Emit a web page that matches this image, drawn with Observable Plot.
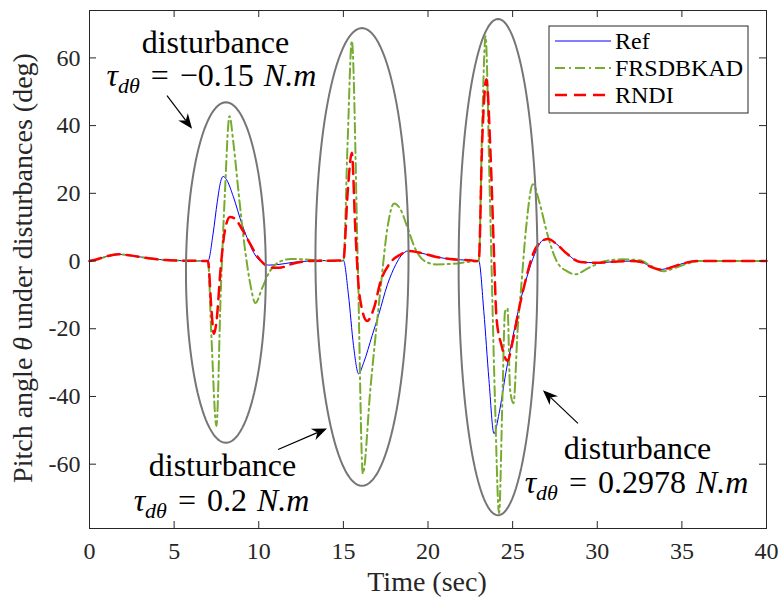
<!DOCTYPE html>
<html><head><meta charset="utf-8">
<script src="https://cdn.jsdelivr.net/npm/d3@7"></script>
<script src="https://cdn.jsdelivr.net/npm/@observablehq/plot@0.6"></script>
<style>body{margin:0;background:#fff} svg, svg text{font-family:"Liberation Serif",serif}</style>
</head><body><div id="chart"></div>
<script>
// ---- data (time in s, pitch angle in deg) ----
const refT = [0,0.5,1,1.7,2.5,3.5,4.5,5.5,7.0,7.3,7.55,7.75,7.9,8.1,8.5,9.0,9.3,9.7,10.2,10.6,11.2,12.0,13.0,15.0,15.3,15.6,15.9,16.2,16.7,17.1,17.6,18.1,18.4,18.85,19.5,20.5,21.3,22.5,23.0,23.3,23.6,23.9,24.2,24.6,25.0,25.5,25.9,26.3,26.8,27.1,27.6,28.2,29.0,30.0,31.0,32.0,32.6,33.2,33.7,34.3,35.0,35.9,40];
const refY = [0,0.6,1.4,2.0,1.6,0.8,0.3,0.1,0,8,17.5,23.5,25,24,19,11,7,2.5,-0.5,-1.2,-1.0,-0.4,0,0.2,-10,-25,-33.3,-30,-22,-15.6,-7,-1,1.5,3,2.5,1.2,0.6,0.2,0,-15,-35,-51,-45,-33,-22.7,-11,-3.8,2,6.2,6.5,5,2.2,-0.3,-0.5,-0.2,0,-0.3,-1.8,-2.5,-2.0,-0.8,0,0];

const frsT = [0,0.5,1,1.7,2.5,3.5,4.5,5.5,7.0,7.2,7.5,7.75,8.0,8.27,8.5,8.8,9.2,9.5,9.8,10.2,10.6,11.1,11.9,13.0,14.0,15.0,15.25,15.5,15.85,16.15,16.6,17.2,17.6,18.0,18.4,18.8,19.26,19.8,20.5,21.5,22.5,23.0,23.2,23.4,23.65,23.95,24.2,24.4,24.55,24.7,24.85,25.05,25.3,25.5,25.8,26.2,26.6,27.05,27.6,28.2,28.7,29.5,30.5,31.5,32.5,33.2,33.9,34.6,35.3,36.0,40];
const frsY = [0,0.5,1.3,2.0,1.6,0.8,0.3,0.1,0,-22,-48.7,-10,20,42.8,35,20.6,3,-6.8,-12.4,-8,-3.5,-0.6,0.6,0.4,0.1,0,35,65,0,-62.8,-37.5,-8,9.7,17,15,9.7,3.5,0,-1,-0.8,-0.2,0,40,66.4,20,-40,-74.5,-40,-15,-14,-38,-42,-20,-8,10,22.7,17,8,0,-3,-3.9,-2,0,0.5,0.2,-1.5,-3,-2,-0.8,0,0];

const rndiT = [0,0.5,1,1.7,2.5,3.5,4.5,5.5,7.0,7.2,7.35,7.5,7.75,8.0,8.3,8.6,9.0,9.5,9.9,10.3,10.8,11.2,12.0,13.0,15.0,15.25,15.5,15.7,15.95,16.4,16.8,17.2,17.7,18.4,18.85,19.5,20.5,21.3,22.5,23.0,23.2,23.45,23.7,23.9,24.05,24.35,24.7,24.97,25.35,25.75,26.2,26.7,27.1,27.6,28.2,29.0,30.0,31.0,32.0,32.6,33.2,33.7,34.3,35.0,35.9,40];
const rndiY = [0,0.6,1.4,2.0,1.6,0.8,0.3,0.1,0,-14,-21.5,-18,-2,9,13,12.5,9.5,5,1.5,-0.8,-2,-2,-0.8,0,0.2,20,32,10,-10,-17.7,-14,-6,-1,2,3,2.5,1.2,0.6,0.2,0,35,53.7,31,2,-17,-25,-29.5,-24.5,-14.7,-6,2,5.8,6.5,5,2.2,-0.3,-0.5,-0.2,0,-0.3,-1.8,-2.5,-2.0,-0.8,0,0];

const seriesNames = ["Ref", "FRSDBKAD", "RNDI"];
const xTicks = [0,5,10,15,20,25,30,35,40];
const yTicks = [-60,-40,-20,0,20,40,60];

// ellipses highlighting the disturbances (data units)
const ellCX = [8.06, 16.1, 24.14];
const ellCY = [-3.4, 1.2, -1.8];
const ellRX = [2.36, 2.75, 2.33];
const ellRY = [50.3, 67.6, 73.3];

// annotations
const annWordT = [7.44, 7.86, 32.38];
const annWordY = [61.4, -63.4, -58.4];
const annMathT = [7.2, 7.8, 32.32];
const annMathY = [51.6, -73.7, -68.4];
const annTorque = ["−0.15", "0.2", "0.2978"];
const arrT1 = [4.61, 11.17, 28.89], arrY1 = [48.7, -55.8, -48.1];
const arrT2 = [6.09, 14.06, 26.82], arrY2 = [38.9, -49.6, -38.3];

// ---- build tables ----
const toRows = (name, T, Y) => T.map((t, i) => ({series: name, t, v: Y[i]}));
const refRows = toRows(seriesNames[0], refT, refY);
const frsRows = toRows(seriesNames[1], frsT, frsY);
const rndiRows = toRows(seriesNames[2], rndiT, rndiY);
const ellRows = [];
ellCX.forEach((cx, k) => {
  for (let i = 0; i < 120; i++) {
    const a = 2 * Math.PI * i / 120;
    ellRows.push({id: k, t: cx + ellRX[k] * Math.cos(a), v: ellCY[k] + ellRY[k] * Math.sin(a)});
  }
});
const wordRows = annWordT.map((t, i) => ({t, v: annWordY[i], s: "disturbance"}));
const mathRows = annMathT.map((t, i) => ({t, v: annMathY[i], s: `τdθ = ${annTorque[i]} N.m`}));

const FONT = "Liberation Serif";
const W = 781, H = 607, mL = 89, mR = 15, mT = 10, mB = 79;
const innerW = W - mL - mR, innerH = H - mT - mB;
const axisColor = "#262626";
const colors = {Ref: "#0000ff", FRSDBKAD: "#77ac30", RNDI: "#ff0000"};
const dashes = {Ref: null, FRSDBKAD: "10,4,2,4", RNDI: "12,7"};
const widths = {Ref: 1, FRSDBKAD: 2, RNDI: 2.5};

const plot = Plot.plot({
  width: W, height: H,
  marginLeft: mL, marginRight: mR, marginTop: mT, marginBottom: mB,
  style: {fontFamily: FONT, fontSize: "24px", background: "white"},
  x: {domain: [0, 40]},
  y: {domain: [-79, 74]},
  marks: [
    Plot.line(refRows, {x: "t", y: "v", stroke: colors.Ref, strokeWidth: widths.Ref, curve: "monotone-x"}),
    Plot.line(frsRows, {x: "t", y: "v", stroke: colors.FRSDBKAD, strokeWidth: widths.FRSDBKAD, strokeDasharray: dashes.FRSDBKAD, curve: "monotone-x"}),
    Plot.line(rndiRows, {x: "t", y: "v", stroke: colors.RNDI, strokeWidth: widths.RNDI, strokeDasharray: dashes.RNDI, curve: "monotone-x"}),
    Plot.line(ellRows, {x: "t", y: "v", z: "id", stroke: "#767676", strokeWidth: 2, curve: "linear-closed"}),
    Plot.frame({stroke: axisColor, strokeWidth: 1}),
    Plot.tickX(xTicks, {x: d => d, stroke: axisColor, insetTop: innerH - 7}),
    Plot.tickX(xTicks, {x: d => d, stroke: axisColor, insetBottom: innerH - 7}),
    Plot.tickY(yTicks, {y: d => d, stroke: axisColor, insetRight: innerW - 7}),
    Plot.tickY(yTicks, {y: d => d, stroke: axisColor, insetLeft: innerW - 7}),
    Plot.axisX(xTicks, {tickSize: 0, tickPadding: 13, tickFormat: d => String(d), label: null, fill: axisColor, fontSize: 24, fontFamily: FONT}),
    Plot.axisY(yTicks, {tickSize: 0, tickPadding: 9, tickFormat: d => String(d), label: null, fill: axisColor, fontSize: 24, fontFamily: FONT}),
    Plot.text(wordRows, {x: "t", y: "v", text: "s", fontSize: 32, fontFamily: FONT, textAnchor: "middle", lineAnchor: "bottom", fill: "black"}),
    Plot.text(mathRows, {x: "t", y: "v", text: "s", fontSize: 32, fontFamily: FONT, textAnchor: "middle", lineAnchor: "bottom", fill: "black"})
  ]
});

const svg = d3.select(plot);
const sx = plot.scale("x"), sy = plot.scale("y");

// math typesetting of torque labels
svg.selectAll("text").each(function() {
  const txt = this.textContent;
  const m = /^τdθ = (.+) N\.m$/.exec(txt);
  if (!m) return;
  const el = d3.select(this);
  el.text(null);
  el.append("tspan").attr("font-style", "italic").text("τ");
  el.append("tspan").attr("font-style", "italic").attr("font-size", "22px").attr("dy", 7).text("dθ");
  el.append("tspan").attr("dy", -7).attr("dx", 3).text(" =");
  el.append("tspan").attr("dx", 3).text(` ${m[1]} `);
  el.append("tspan").attr("dx", 2).attr("font-style", "italic").text("N.m");
});

// arrows
const ag = svg.append("g");
arrT1.forEach((t1, i) => {
  const x1 = sx.apply(t1), y1 = sy.apply(arrY1[i]);
  const x2 = sx.apply(arrT2[i]), y2 = sy.apply(arrY2[i]);
  const dx = x2 - x1, dy = y2 - y1, len = Math.hypot(dx, dy);
  const ux = dx / len, uy = dy / len, nx = -uy, ny = ux;
  const L = 15, w = 6;
  const bx = x2 - ux * L, by = y2 - uy * L;
  const kx = x2 - ux * L * 0.7, ky = y2 - uy * L * 0.7;
  ag.append("line").attr("x1", x1).attr("y1", y1).attr("x2", kx).attr("y2", ky)
    .attr("stroke", "black").attr("stroke-width", 1.2);
  ag.append("path").attr("d", `M${x2},${y2}L${bx + nx * w},${by + ny * w}L${kx},${ky}L${bx - nx * w},${by - ny * w}Z`)
    .attr("fill", "black");
});

// axis labels
const yl = svg.append("text").attr("transform", "translate(32,268) rotate(-90)")
  .attr("text-anchor", "middle").attr("font-family", FONT).attr("font-size", 28).attr("fill", axisColor);
yl.append("tspan").text("Pitch angle ");
yl.append("tspan").attr("font-style", "italic").text("θ");
yl.append("tspan").text(" under disturbances (deg)");
svg.append("text").attr("x", 427).attr("y", 591).attr("text-anchor", "middle")
  .attr("font-family", FONT).attr("font-size", 28).attr("fill", axisColor).text("Time (sec)");

// legend (inside the axes, top-right)
const lg = svg.append("g");
lg.append("rect").attr("x", 549).attr("y", 26).attr("width", 199).attr("height", 87)
  .attr("fill", "white").attr("stroke", axisColor).attr("stroke-width", 1);
seriesNames.forEach((name, i) => {
  const yy = 41 + i * 27;
  lg.append("line").attr("x1", 555).attr("x2", 611).attr("y1", yy).attr("y2", yy)
    .attr("stroke", colors[name]).attr("stroke-width", widths[name])
    .attr("stroke-dasharray", dashes[name]);
  lg.append("text").attr("x", 615).attr("y", yy).attr("dy", "0.35em")
    .attr("text-anchor", "start").attr("font-family", FONT)
    .attr("font-size", 24).attr("fill", "black").text(name);
});

document.getElementById("chart").appendChild(plot);
</script>
</body></html>
